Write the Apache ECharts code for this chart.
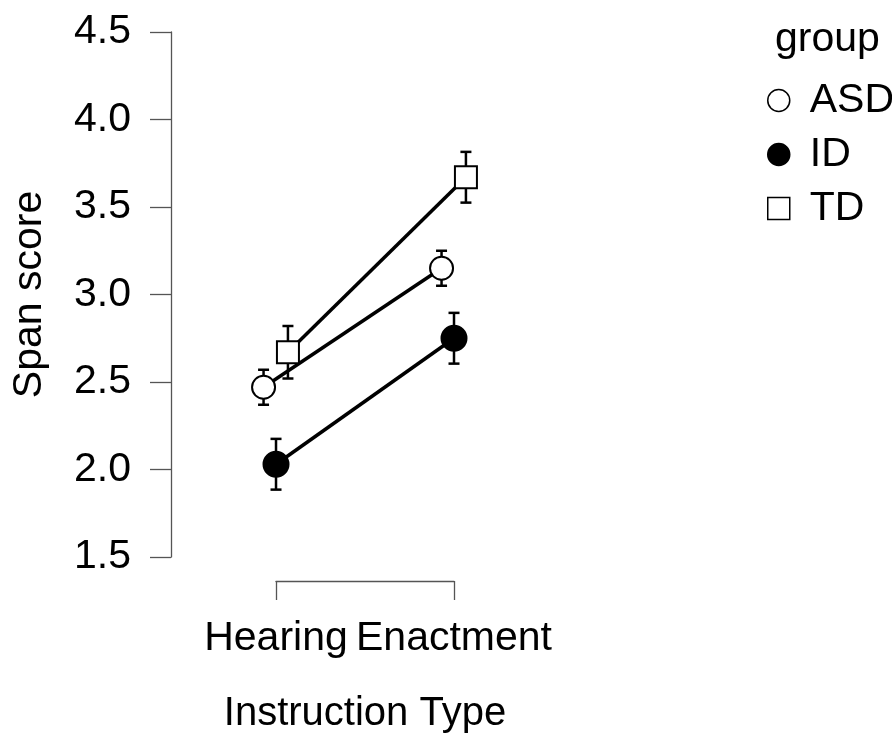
<!DOCTYPE html>
<html>
<head>
<meta charset="utf-8">
<script src="https://cdn.jsdelivr.net/npm/echarts@6/dist/echarts.min.js"></script>
<style>
  html, body { margin: 0; padding: 0; background: #fff; }
  #chart { width: 892px; height: 734px; }
</style>
</head>
<body>
<div id="chart"></div>
<script>
// Span score by instruction type and group (mean ± SE)
const categories = ['Hearing', 'Enactment'];
const groups = ['ASD', 'ID', 'TD'];
const asdMean = [2.47, 3.15];
const asdErr = [0.10, 0.10];
const idMean = [2.03, 2.75];
const idErr = [0.145, 0.145];
const tdMean = [2.67, 3.67];
const tdErr = [0.15, 0.145];
const yTicks = [1.5, 2.0, 2.5, 3.0, 3.5, 4.0, 4.5];

const FONT = '"Liberation Sans", Arial, Helvetica, sans-serif';
const FS = 41;
const AXIS_COLOR = '#555';

// horizontal dodge so the three groups don't overlap
const dodge = { ASD: -0.07, ID: 0, TD: 0.067 };
const means = { ASD: asdMean, ID: idMean, TD: tdMean };
const errs = { ASD: asdErr, ID: idErr, TD: tdErr };
const markerStyle = {
  ASD: { symbol: 'circle', fill: '#fff', size: 23 },
  ID: { symbol: 'circle', fill: '#000', size: 25 },
  TD: { symbol: 'rect', fill: '#fff', size: 22 }
};

function xPos(g, i) { return i + 1 + dodge[g]; }

const errData = [];
groups.forEach(g => {
  categories.forEach((c, i) => {
    errData.push([xPos(g, i), means[g][i] - errs[g][i], means[g][i] + errs[g][i]]);
  });
});

const lineSeries = groups.map(g => ({
  name: g,
  type: 'line',
  xAxisIndex: 0,
  yAxisIndex: 0,
  z: 3,
  data: categories.map((c, i) => [xPos(g, i), means[g][i]]),
  symbol: markerStyle[g].symbol,
  symbolSize: markerStyle[g].size,
  showSymbol: true,
  lineStyle: { color: '#000', width: 3.5 },
  itemStyle: { color: markerStyle[g].fill, borderColor: '#000', borderWidth: 2 },
  emphasis: { disabled: true }
}));

const chart = echarts.init(document.getElementById('chart'), null, { renderer: 'canvas' });

chart.setOption({
  animation: false,
  backgroundColor: '#fff',
  textStyle: { fontFamily: FONT },
  title: {
    text: 'group',
    left: 775,
    top: 19,
    padding: 0,
    textStyle: { fontFamily: FONT, fontSize: FS, fontWeight: 'normal', color: '#000' }
  },
  legend: {
    orient: 'vertical',
    left: 767,
    top: 80,
    padding: 0,
    itemWidth: 22,
    itemHeight: 22,
    itemGap: 13,
    selectedMode: false,
    textStyle: { fontFamily: FONT, fontSize: FS, color: '#000', padding: [0, 0, 0, 15] },
    data: groups.map(g => ({
      name: g,
      icon: markerStyle[g].symbol,
      itemStyle: { color: markerStyle[g].fill, borderColor: '#000', borderWidth: 1.5 }
    }))
  },
  grid: [
    { left: 171, top: 32, width: 372, height: 525, containLabel: false, outerBoundsMode: 'none' },
    { left: 276, width: 178, top: 570, bottom: 153, containLabel: false, outerBoundsMode: 'none' }
  ],
  xAxis: [
    { type: 'value', gridIndex: 0, min: 0.41, max: 2.5, show: false },
    {
      type: 'category',
      gridIndex: 1,
      data: categories,
      boundaryGap: false,
      position: 'bottom',
      axisLine: { show: true, lineStyle: { color: AXIS_COLOR, width: 1.3 } },
      axisTick: { show: true, length: 19, lineStyle: { color: AXIS_COLOR, width: 1.3 } },
      axisLabel: { fontFamily: FONT, fontSize: FS, color: '#000', margin: 37, interval: 0, hideOverlap: false },
      name: 'Instruction Type',
      nameLocation: 'middle',
      nameGap: 113,
      nameTextStyle: { fontFamily: FONT, fontSize: 40, color: '#000' }
    }
  ],
  yAxis: [
    {
      type: 'value',
      gridIndex: 0,
      min: 1.5,
      max: 4.5,
      interval: 0.5,
      splitLine: { show: false },
      axisLine: { show: true, lineStyle: { color: AXIS_COLOR, width: 1.3 } },
      axisTick: { show: true, length: 21, lineStyle: { color: AXIS_COLOR, width: 1.3 } },
      axisLabel: {
        fontFamily: FONT, fontSize: FS, color: '#000', margin: 40,
        formatter: v => yTicks.includes(v) ? v.toFixed(1) : ''
      },
      name: 'Span score',
      nameLocation: 'middle',
      nameGap: 121,
      nameTextStyle: { fontFamily: FONT, fontSize: FS, color: '#000' }
    },
    { type: 'value', gridIndex: 1, show: false }
  ],
  series: [
    {
      type: 'custom',
      name: 'error',
      xAxisIndex: 0,
      yAxisIndex: 0,
      z: 1,
      silent: true,
      data: errData,
      renderItem: function (params, api) {
        const x = api.value(0);
        const lo = api.coord([x, api.value(1)]);
        const hi = api.coord([x, api.value(2)]);
        const cap = 5.5;
        const style = { stroke: '#000', lineWidth: 2.5, fill: null };
        return {
          type: 'group',
          children: [
            { type: 'line', shape: { x1: lo[0], y1: lo[1], x2: hi[0], y2: hi[1] }, style: style },
            { type: 'line', shape: { x1: lo[0] - cap, y1: lo[1], x2: lo[0] + cap, y2: lo[1] }, style: style },
            { type: 'line', shape: { x1: hi[0] - cap, y1: hi[1], x2: hi[0] + cap, y2: hi[1] }, style: style }
          ]
        };
      }
    }
  ].concat(lineSeries)
});
</script>
</body>
</html>
